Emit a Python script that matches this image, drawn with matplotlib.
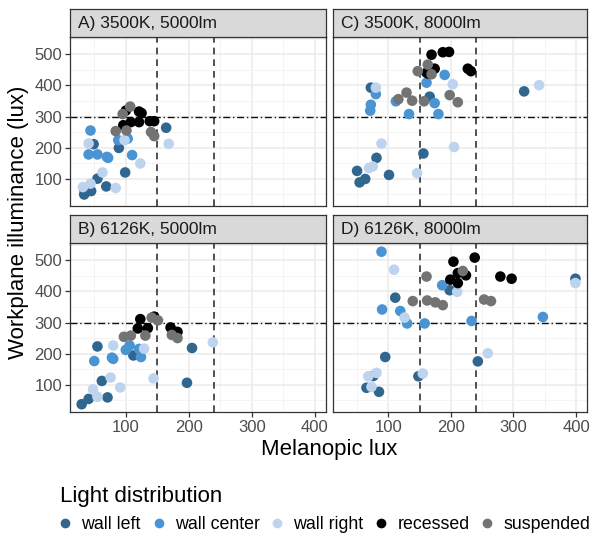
import matplotlib
matplotlib.use("Agg")
import matplotlib.pyplot as plt
from matplotlib.lines import Line2D

plt.rcParams['font.family'] = ['Liberation Sans', 'DejaVu Sans']

categories = ["wall left", "wall center", "wall right", "recessed", "suspended"]
colors = {"wall left": "#31668f", "wall center": "#4a94d4", "wall right": "#bed4ee",
          "recessed": "#000000", "suspended": "#737373"}

panel_titles = ["A) 3500K, 5000lm", "C) 3500K, 8000lm", "B) 6126K, 5000lm", "D) 6126K, 8000lm"]

# Panel A
A_wall_left_x = [164, 49, 89, 99, 55, 69, 34, 45, 34]
A_wall_left_y = [264, 211, 199, 120, 100, 75, 65, 60, 49]
A_wall_center_x = [44, 41, 55, 70, 72, 88, 103, 110]
A_wall_center_y = [255, 178, 178, 170, 167, 224, 229, 176]
A_wall_right_x = [41, 98, 168, 123, 63, 84, 44, 32]
A_wall_right_y = [213, 224, 212, 149, 120, 70, 84, 73]
A_recessed_x = [100, 121, 125, 108, 121, 138, 145, 96]
A_recessed_y = [319, 316, 311, 282, 282, 285, 285, 272]
A_suspended_x = [107, 95, 84, 101, 140, 145]
A_suspended_y = [332, 308, 253, 255, 250, 237]

# Panel C
C_wall_left_x = [72, 166, 317, 81, 156, 50, 54, 63, 101]
C_wall_left_y = [393, 364, 381, 167, 181, 125, 88, 99, 112]
C_wall_center_x = [190, 161, 80, 72, 71, 112, 133, 174, 180]
C_wall_center_y = [434, 409, 372, 338, 319, 349, 308, 343, 308]
C_wall_right_x = [80, 203, 341, 89, 205, 69, 75, 146]
C_wall_right_y = [393, 404, 401, 213, 202, 134, 139, 118]
C_recessed_x = [169, 187, 197, 161, 166, 174, 164, 227, 232]
C_recessed_y = [499, 507, 508, 441, 448, 454, 438, 454, 446]
C_suspended_x = [163, 147, 169, 129, 116, 138, 157, 198, 211]
C_suspended_y = [467, 446, 436, 377, 356, 351, 349, 369, 346]

# Panel B
B_wall_left_x = [55, 205, 112, 62, 197, 71, 30, 41]
B_wall_left_y = [223, 218, 194, 112, 106, 59, 37, 54]
B_wall_center_x = [106, 100, 121, 124, 78, 80, 50]
B_wall_center_y = [226, 212, 215, 189, 187, 183, 176]
B_wall_right_x = [80, 129, 238, 76, 144, 91, 48, 55]
B_wall_right_y = [226, 216, 236, 123, 120, 91, 85, 61]
B_recessed_x = [123, 145, 119, 135, 171, 182]
B_recessed_y = [311, 319, 281, 282, 284, 270]
B_suspended_x = [141, 151, 97, 108, 131, 173, 182]
B_suspended_y = [316, 307, 254, 258, 258, 260, 250]

# Panel D
D_wall_left_x = [399, 198, 111, 95, 243, 76, 148, 65, 85]
D_wall_left_y = [441, 404, 380, 189, 175, 128, 127, 90, 77]
D_wall_center_x = [89, 186, 90, 119, 130, 158, 233, 347]
D_wall_center_y = [528, 420, 342, 337, 297, 297, 305, 318]
D_wall_right_x = [109, 210, 399, 126, 259, 81, 68, 155, 73]
D_wall_right_y = [470, 399, 427, 316, 201, 138, 127, 136, 93]
D_recessed_x = [204, 238, 211, 224, 199, 211, 279, 297]
D_recessed_y = [496, 509, 459, 452, 438, 427, 448, 441]
D_suspended_x = [161, 219, 139, 162, 175, 187, 253, 264]
D_suspended_y = [448, 466, 369, 371, 365, 356, 374, 369]

panels = [
    [(A_wall_left_x, A_wall_left_y), (A_wall_center_x, A_wall_center_y), (A_wall_right_x, A_wall_right_y),
     (A_recessed_x, A_recessed_y), (A_suspended_x, A_suspended_y)],
    [(C_wall_left_x, C_wall_left_y), (C_wall_center_x, C_wall_center_y), (C_wall_right_x, C_wall_right_y),
     (C_recessed_x, C_recessed_y), (C_suspended_x, C_suspended_y)],
    [(B_wall_left_x, B_wall_left_y), (B_wall_center_x, B_wall_center_y), (B_wall_right_x, B_wall_right_y),
     (B_recessed_x, B_recessed_y), (B_suspended_x, B_suspended_y)],
    [(D_wall_left_x, D_wall_left_y), (D_wall_center_x, D_wall_center_y), (D_wall_right_x, D_wall_right_y),
     (D_recessed_x, D_recessed_y), (D_suspended_x, D_suspended_y)],
]

x_ticks = [100, 200, 300, 400]
y_ticks = [100, 200, 300, 400, 500]
x_minor = [50, 150, 250, 350]
y_minor = [50, 150, 250, 350, 450, 550]
vlines = [150, 240]
hline = 300

W, H = 592, 535
fig = plt.figure(figsize=(W / 100, H / 100), dpi=100)

lefts = [70, 333]
panel_w = [256, 254]
tops = [37, 243]
panel_h = 169
strip_h = 28

def fx(px):
    return px / W

def fy(py):
    return 1 - py / H

for i in range(4):
    r, c = divmod(i, 2)
    l = lefts[c]
    t = tops[r]
    w = panel_w[c]
    ax = fig.add_axes([fx(l), fy(t + panel_h), w / W, panel_h / H])
    ax.set_xlim(11.5, 417.5)
    ax.set_ylim(12, 556)
    ax.set_xticks(x_ticks)
    ax.set_yticks(y_ticks)
    ax.set_xticks(x_minor, minor=True)
    ax.set_yticks(y_minor, minor=True)
    ax.grid(which='major', color='#ebebeb', linewidth=1.1)
    ax.grid(which='minor', color='#f3f3f3', linewidth=0.6)
    ax.set_axisbelow(True)
    for sp in ax.spines.values():
        sp.set_color('#333333')
        sp.set_linewidth(0.9)
    ax.tick_params(which='minor', length=0)
    ax.tick_params(which='major', length=3.5, color='#333333', width=0.9,
                   labelsize=12, labelcolor='#4d4d4d', pad=2)
    if r == 0:
        ax.tick_params(axis='x', which='major', labelbottom=False, length=0)
    if c == 1:
        ax.tick_params(axis='y', which='major', labelleft=False, length=0)
    for xv in vlines:
        ax.axvline(xv, color='#333333', linestyle=(0, (4, 3)), linewidth=1.2, zorder=2)
    ax.axhline(hline, color='#111111', linestyle=(0, (5, 2, 1, 2)), linewidth=1.0, zorder=2)
    for cat, (xs, ys) in zip(categories, panels[i]):
        ax.scatter(xs, ys, s=58, color=colors[cat], edgecolors='none', zorder=3)
    # strip
    sax = fig.add_axes([fx(l), fy(t), w / W, strip_h / H])
    sax.set_facecolor('#d9d9d9')
    sax.set_xticks([])
    sax.set_yticks([])
    for sp in sax.spines.values():
        sp.set_color('#333333')
        sp.set_linewidth(0.9)
    sax.text(0.03, 0.47, panel_titles[i], transform=sax.transAxes, ha='left', va='center',
             fontsize=12.5, color='#1a1a1a')

fig.text(fx(19), fy(222), "Workplane illuminance (lux)", rotation=90, ha='center', va='center',
         fontsize=16, color='black')
fig.text(fx(329), fy(449), "Melanopic lux", ha='center', va='center', fontsize=16, color='black')

handles = [Line2D([], [], marker='o', linestyle='none', markersize=7,
                  markerfacecolor=colors[cat], markeredgecolor='none') for cat in categories]
leg = fig.legend(handles, categories, loc='upper left', bbox_to_anchor=(fx(53), fy(479)),
                 ncol=5, frameon=False, title="Light distribution", title_fontsize=16,
                 fontsize=12.8, handletextpad=0.6, columnspacing=0.7, handlelength=0.6,
                 borderaxespad=0, alignment='left')

fig.savefig("out.png", dpi=100)
